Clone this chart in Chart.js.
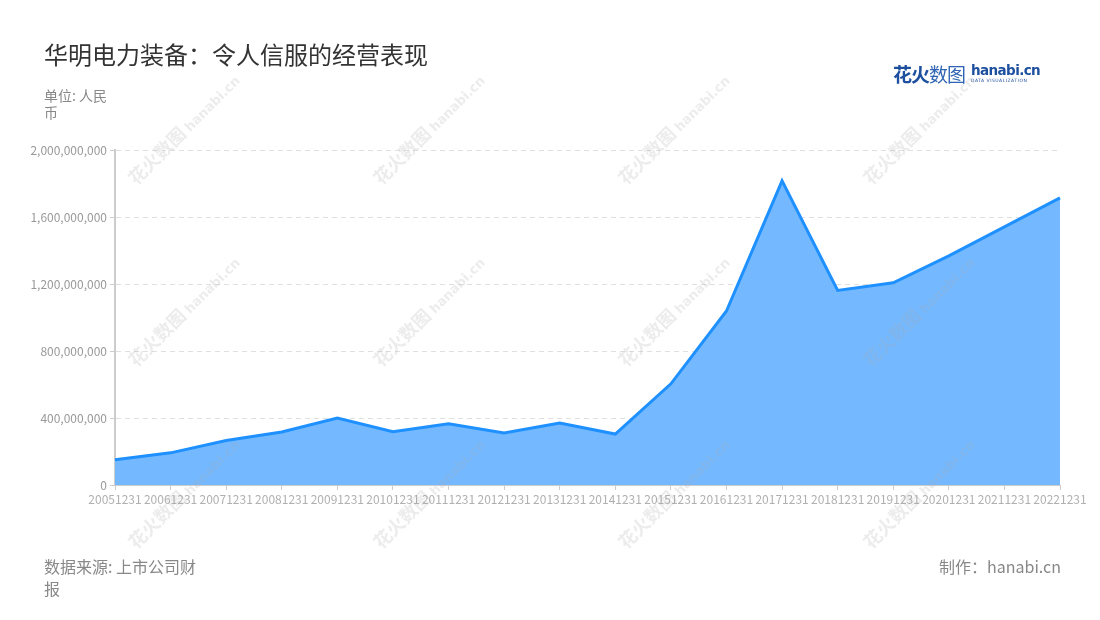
<!DOCTYPE html>
<html>
<head>
<meta charset="utf-8">
<script src="https://cdn.jsdelivr.net/npm/chart.js@4.4.1/dist/chart.umd.min.js"></script>
<style>
  body { margin: 0; background: #fff; }
  #wrap { position: relative; width: 1100px; height: 620px; overflow: hidden; font-family: "Noto Sans CJK SC", "Noto Sans", sans-serif; }
  #chart { position: absolute; left: 0; top: 0; }
  .title { position: absolute; left: 44px; top: 37px; font-size: 24px; line-height: 34px; color: #333; }
  .unit { position: absolute; left: 44px; top: 87px; width: 68px; font-size: 14px; line-height: 17px; color: #888; }
  .source { position: absolute; left: 44px; top: 555px; width: 162px; font-size: 16px; line-height: 22px; color: #888; }
  .maker { position: absolute; right: 39px; top: 555px; font-size: 16px; line-height: 22px; color: #888; }
  .logo { position: absolute; left: 893px; top: 60px; height: 28px; white-space: nowrap; }
  .logo .cn { font-size: 19px; font-weight: bold; color: #1d4f9f; vertical-align: top; letter-spacing: -1px; }
  .logo .cn span { font-weight: normal; color: #2f63b3; }
  .logo .en { display: inline-block; margin-left: 6px; margin-top: 2px; vertical-align: top; font-family: "DejaVu Sans", sans-serif; color: #1d4f9f; }
  .logo .en b { display: block; font-size: 13.5px; line-height: 16px; letter-spacing: -0.6px; }
  .logo .en i { display: block; font-style: normal; font-size: 4.5px; line-height: 6px; letter-spacing: 0.5px; }
  .wm { position: absolute; white-space: nowrap; transform: rotate(-45deg); transform-origin: center; color: rgba(170,170,170,0.22); pointer-events: none; }
  .wm .a { font-size: 18px; font-weight: bold; }
  .wm .b { font-size: 13px; font-family: "DejaVu Sans", sans-serif; font-weight: bold; margin-left: 4px; }
</style>
</head>
<body>
<div id="wrap">
  <canvas id="chart" width="1100" height="620"></canvas>
  <div class="title">华明电力装备：令人信服的经营表现</div>
  <div class="unit">单位: 人民币</div>
  <div class="logo"><span class="cn">花火<span>数图</span></span><span class="en"><b>hanabi.cn</b><i>DATA VISUALIZATION</i></span></div>
  <div class="source">数据来源: 上市公司财报</div>
  <div class="maker">制作：hanabi.cn</div>
</div>
<script>
const years = ["20051231", "20061231", "20071231", "20081231", "20091231", "20101231",
  "20111231", "20121231", "20131231", "20141231", "20151231", "20161231",
  "20171231", "20181231", "20191231", "20201231", "20211231", "20221231"];
const revenue = [151e6, 192e6, 266e6, 316e6, 400e6, 318e6, 366e6, 310e6, 370e6, 304e6,
  604e6, 1039e6, 1816e6, 1162e6, 1207e6, 1368e6, 1541e6, 1714e6];

// watermark grid
const wmCols = [183, 428, 673, 918];
const wmRows = [128, 310, 492];
const wrap = document.getElementById("wrap");
wmRows.forEach((y) => {
  wmCols.forEach((x) => {
    const d = document.createElement("div");
    d.className = "wm";
    d.innerHTML = '<span class="a">花火数图</span><span class="b">hanabi.cn</span>';
    wrap.appendChild(d);
    const w = d.offsetWidth, h = d.offsetHeight;
    d.style.left = (x - w / 2) + "px";
    d.style.top = (y - h / 2) + "px";
  });
});

const ctx = document.getElementById("chart").getContext("2d");
new Chart(ctx, {
  type: "line",
  data: {
    labels: years,
    datasets: [{
      data: revenue,
      borderColor: "#1e90ff",
      backgroundColor: "#74b9ff",
      borderWidth: 3,
      fill: "origin",
      pointRadius: 0,
      tension: 0,
    }],
  },
  options: {
    responsive: false,
    animation: false,
    layout: { padding: { left: 0, right: 40, top: 150, bottom: 105 } },
    plugins: { legend: { display: false }, tooltip: { enabled: false } },
    scales: {
      x: {
        offset: false,
        afterFit: (scale) => { scale.height = 30; },
        grid: { drawOnChartArea: false, tickLength: 5, tickColor: "#ccc" },
        border: { color: "#ccc", width: 1 },
        ticks: {
          autoSkip: false,
          maxRotation: 0,
          padding: 2,
          color: "#b0b0b0",
          font: { family: "Noto Sans CJK SC", size: 12 },
        },
      },
      y: {
        min: 0,
        max: 2000000000,
        afterFit: (scale) => { scale.width = 115; },
        grid: { color: "#e0e0e0", tickLength: 5, tickColor: "#ccc", tickBorderDash: [] },
        border: { color: "#ccc", width: 2, dash: [5, 4] },
        ticks: {
          stepSize: 400000000,
          padding: 3,
          color: "#999",
          font: { family: "Noto Sans CJK SC", size: 12 },
          callback: (v) => v.toLocaleString("en-US"),
        },
      },
    },
  },
});
</script>
</body>
</html>
